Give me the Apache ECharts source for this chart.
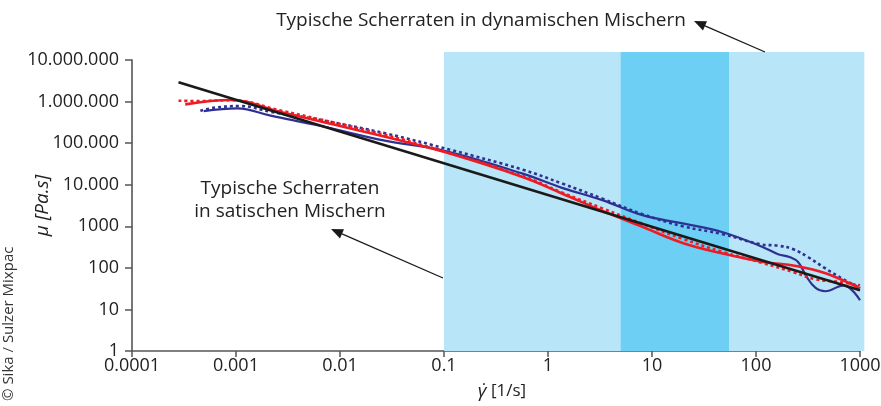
<!DOCTYPE html>
<html>
<head>
<meta charset="utf-8">
<script src="https://cdn.jsdelivr.net/npm/echarts@6/dist/echarts.min.js"></script>
<style>html,body{margin:0;padding:0;background:#fff}#c{width:881px;height:406px}</style>
</head>
<body>
<div id="c"></div>
<script>
// ---- data ----
const xTickLabels = ['0.0001', '0.001', '0.01', '0.1', '1', '10', '100', '1000'];
const yTickLabels = ['1', '10', '100', '1000', '10.000', '100.000', '1.000.000', '10.000.000'];

// shear-rate bands [xFrom, xTo, yTop, yBottom]
const lightBand = [[0.1, 1100, 15500000, 1]];
const darkBand = [[5, 55, 15500000, 1]];

// power-law reference line
const blackLine = [[0.00028, 2900000], [1000, 29]];

const redSolid = [
  [0.000325, 857000], [0.000885, 1090000], [0.00269, 560000], [0.00655, 330000],
  [0.0278, 140000], [0.1, 61700], [0.561, 15500], [1.36, 6170], [3.33, 2350],
  [8.09, 968], [19.7, 398], [48, 221], [117, 139], [243, 111], [474, 73], [1000, 32]
];
const redDotted = [
  [0.00028, 1047000], [0.000454, 1030000], [0.0009, 1080000], [0.00269, 608000],
  [0.00655, 369000], [0.0278, 156000], [0.1, 63000], [0.561, 16500], [1.36, 6500],
  [3.33, 2700], [8.09, 1150], [19.7, 500], [48, 240], [117, 130], [228, 79],
  [372, 53], [620, 46], [1000, 38]
];
const blueSolid = [
  [0.000489, 591000], [0.00103, 687000], [0.00215, 460000], [0.00655, 258000],
  [0.0278, 113000], [0.0946, 68000], [0.561, 18700], [1.365, 8410], [3.33, 4250],
  [8.09, 1850], [19.7, 1170], [48, 721], [117, 314], [163, 213], [213, 180],
  [255, 137], [304, 63], [372, 33.3], [464, 27.4], [693, 38], [1000, 16.6]
];
const blueDotted = [
  [0.000454, 601000], [0.000634, 718000], [0.0011, 780000], [0.00215, 569000],
  [0.00655, 359000], [0.0278, 170000], [0.118, 68000], [0.561, 23300], [1.365, 10700],
  [3.33, 4620], [8.09, 1960], [19.7, 1006], [48, 646], [109, 371], [163, 341],
  [228, 281], [318, 180], [444, 104], [693, 53], [1000, 33]
];

// ---- chart ----
const FONT = '"Open Sans", "Noto Sans", sans-serif';
const chart = echarts.init(document.getElementById('c'), null, {renderer: 'canvas'});

function bandSeries(data, color) {
  return {
    type: 'custom', clip: false, silent: true, z: 1,
    encode: {x: [0, 1], y: [2, 3]},
    data: data,
    renderItem: function (params, api) {
      const p0 = api.coord([api.value(0), api.value(2)]);
      const p1 = api.coord([api.value(1), api.value(3)]);
      return {type: 'rect', shape: {x: p0[0], y: p0[1], width: p1[0] - p0[0], height: p1[1] - p0[1]},
              style: {fill: color}};
    }
  };
}
function lineSeries(data, color, width, dotted, z) {
  return {
    type: 'line', data: data, smooth: 0.4, showSymbol: false, symbol: 'none', z: z,
    clip: false,
    lineStyle: {color: color, width: width, type: dotted ? [3, 3] : 'solid', cap: 'butt'}
  };
}
function logIdx(v) { return Math.round(Math.log10(v)); }

chart.setOption({
  animation: false,
  grid: {left: 132, right: 21, top: 60, bottom: 55, containLabel: false, outerBoundsMode: 'none'},
  xAxis: {
    type: 'log', logBase: 10, min: 0.0001, max: 1000,
    name: '{g|γ̇} [1/s]', nameLocation: 'middle', nameGap: 31, nameMoveOverlap: false,
    nameTextStyle: {fontFamily: FONT, fontSize: 17, color: '#222', padding: [0, 0, 0, 12],
      rich: {g: {fontStyle: 'italic', fontFamily: FONT, fontSize: 19, color: '#222'}}},
    axisLine: {show: true, onZero: false, lineStyle: {color: '#555', width: 1.6}},
    axisTick: {show: true, length: 6, inside: false, lineStyle: {color: '#555', width: 1.5}},
    minorTick: {show: false},
    splitLine: {show: false},
    axisLabel: {fontFamily: FONT, fontSize: 18, color: '#222', margin: 6,
      formatter: v => xTickLabels[logIdx(v) + 4]}
  },
  yAxis: {
    type: 'log', logBase: 10, min: 1, max: 10000000,
    name: 'μ [Pa.s]', nameLocation: 'middle', nameRotate: 90, nameGap: 80, nameMoveOverlap: false,
    nameTextStyle: {fontFamily: FONT, fontSize: 19, fontStyle: 'italic', color: '#222'},
    axisLine: {show: true, onZero: false, lineStyle: {color: '#555', width: 1.6}},
    axisTick: {show: true, length: 7, inside: false, lineStyle: {color: '#555', width: 1.5}},
    minorTick: {show: false},
    splitLine: {show: false},
    axisLabel: {fontFamily: FONT, fontSize: 18, color: '#222', margin: 13,
      formatter: v => yTickLabels[logIdx(v)]}
  },
  series: [
    bandSeries(lightBand, '#b8e5f8'),
    bandSeries(darkBand, '#6dcff4'),
    lineSeries(blueDotted, '#2e3192', 2.6, true, 3),
    lineSeries(blueSolid, '#2e3192', 2.2, false, 4),
    lineSeries(redDotted, '#ed1c24', 2.6, true, 5),
    lineSeries(redSolid, '#ed1c24', 2.6, false, 6),
    lineSeries(blackLine, '#1a1a1a', 2.6, false, 7)
  ]
});

function arrow(x1, y1, x2, y2) {
  const a = Math.atan2(y2 - y1, x2 - x1), L = 12, W = 5;
  const bx = x2 - L * Math.cos(a), by = y2 - L * Math.sin(a);
  const nx = -Math.sin(a) * W, ny = Math.cos(a) * W;
  return [
    {type: 'line', z: 100, shape: {x1: x1, y1: y1, x2: bx, y2: by}, style: {stroke: '#1a1a1a', lineWidth: 1.3}},
    {type: 'polygon', z: 100, shape: {points: [[x2, y2], [bx + nx, by + ny], [bx - nx, by - ny]]}, style: {fill: '#1a1a1a'}}
  ];
}

chart.setOption({
  graphic: [
    {type: 'text', z: 100, x: 481, y: 21, style: {text: 'Typische Scherraten in dynamischen Mischern',
      font: '19px ' + FONT, fill: '#222', align: 'center', verticalAlign: 'middle'}},
    {type: 'text', z: 100, x: 290, y: 200, style: {text: 'Typische Scherraten\nin satischen Mischern',
      font: '19px ' + FONT, fill: '#222', align: 'center', verticalAlign: 'middle', lineHeight: 23}},
    {type: 'text', z: 100, x: 9, y: 401, rotation: Math.PI / 2, style: {text: '© Sika / Sulzer Mixpac',
      font: '15px ' + FONT, fill: '#333', align: 'left', verticalAlign: 'middle'}}
  ].concat(arrow(765, 52, 694, 21)).concat(arrow(443, 278, 331, 229))
});
</script>
</body>
</html>
